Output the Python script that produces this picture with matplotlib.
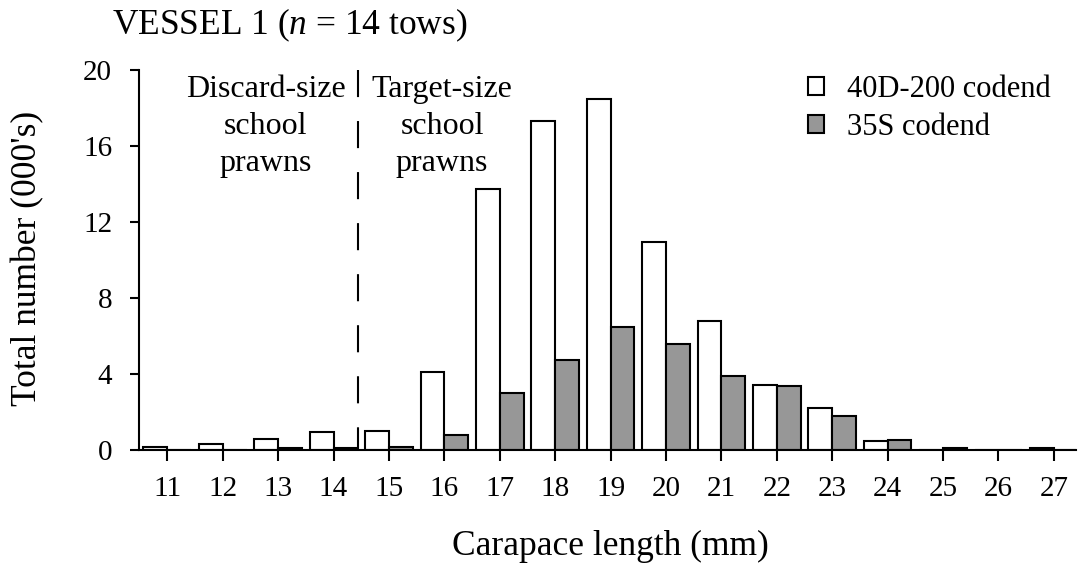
import matplotlib
matplotlib.use("Agg")
import matplotlib.pyplot as plt
from matplotlib.patches import Patch

# Carapace length classes (mm) and catch totals (000's) for each codend
lengths = list(range(11, 28))
codend_40d200 = [0.17, 0.30, 0.60, 0.97, 1.02, 4.10, 13.75, 17.30, 18.50, 10.95,
                 6.80, 3.40, 2.20, 0.50, 0.0, 0.0, 0.08]
codend_35s = [0.0, 0.0, 0.08, 0.08, 0.15, 0.80, 3.00, 4.75, 6.47, 5.58,
              3.90, 3.35, 1.78, 0.51, 0.08, 0.0, 0.0]
y_ticks = [0, 4, 8, 12, 16, 20]
discard_limit = 14.45

plt.rcParams['font.family'] = ['Liberation Serif', 'DejaVu Serif']
plt.rcParams['mathtext.fontset'] = 'custom'
plt.rcParams['mathtext.rm'] = 'Liberation Serif'
plt.rcParams['mathtext.it'] = 'Liberation Serif:italic'

W, H = 1078, 567
fig = plt.figure(figsize=(W / 100, H / 100), dpi=100)
ax = fig.add_axes([138.5 / W, 1 - 450 / H, (1076 - 138.5) / W, 380 / H])

bar_w = 0.43
ax.bar([x - bar_w for x in lengths], codend_40d200, width=bar_w, align='edge',
       facecolor='white', edgecolor='black', linewidth=1.5, zorder=2)
ax.bar(lengths, codend_35s, width=bar_w, align='edge',
       facecolor='#979797', edgecolor='black', linewidth=1.5, zorder=2)

# boundary between discard- and target-size prawns
ax.plot([discard_limit, discard_limit], [20, 0], color='black', lw=1.5,
        linestyle=(0, (13, 11.5)), zorder=3)
ax.text(12.78, 19.75, 'Discard-size\nschool\nprawns', ha='center', va='top',
        fontsize=23, linespacing=1.38)
ax.text(15.96, 19.75, 'Target-size\nschool\nprawns', ha='center', va='top',
        fontsize=23, linespacing=1.38)

ax.set_xlim(10.48, 27.4)
ax.set_ylim(0, 20)
ax.set_xticks(lengths)
ax.set_yticks(y_ticks)
for s in ('top', 'right'):
    ax.spines[s].set_visible(False)
for s in ('left', 'bottom'):
    ax.spines[s].set_linewidth(1.5)
ax.tick_params(axis='both', labelsize=21, width=1.5, direction='out')
ax.tick_params(axis='y', length=6.5, pad=12.5)
ax.tick_params(axis='x', length=8, pad=10.5)

handles = [Patch(facecolor='white', edgecolor='black', linewidth=1.5, label='40D-200 codend'),
           Patch(facecolor='#979797', edgecolor='black', linewidth=1.5, label='35S codend')]
ax.legend(handles=handles, loc='upper left', bbox_to_anchor=(0.714, 0.987),
          frameon=False, fontsize=22, handlelength=0.52, handleheight=0.52,
          handletextpad=0.75, labelspacing=0.3, borderpad=0, borderaxespad=0)

fig.text(112 / W, 1 - 34 / H, r'VESSEL 1 ($\mathit{n}$ = 14 tows)', fontsize=25.5,
         va='baseline', ha='left')
fig.text(610 / W, 1 - 555 / H, 'Carapace length (mm)', fontsize=25.5,
         va='baseline', ha='center')
fig.text(36 / W, 1 - 258 / H, "Total number (000's)", fontsize=25.5, rotation=90,
         rotation_mode='anchor', va='baseline', ha='center')

fig.savefig('out.png', dpi=100)
